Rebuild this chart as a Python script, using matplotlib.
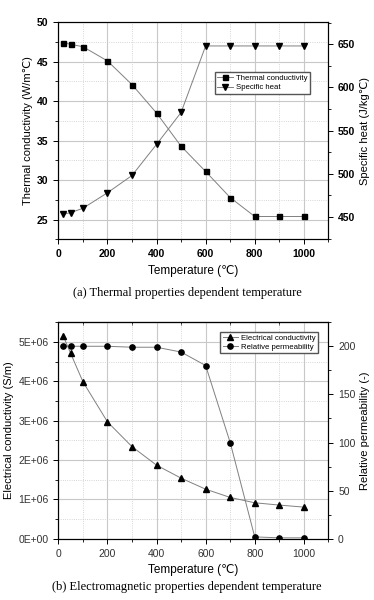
import matplotlib
matplotlib.use('Agg')
from matplotlib import pyplot as plt
from matplotlib.ticker import MultipleLocator, FuncFormatter

plt.rcParams['font.family'] = ['Liberation Sans', 'DejaVu Sans']

# temperature points (deg C)
temp = [20, 50, 100, 200, 300, 400, 500, 600, 700, 800, 900, 1000]

# (a) thermal properties
thermal_cond = [47.4, 47.2, 46.9, 45.1, 42.1, 38.5, 34.3, 31.1, 27.8, 25.4, 25.4, 25.4]
specific_heat = [453, 455, 460, 478, 498, 534, 571, 648, 648, 648, 648, 648]

# (b) electromagnetic properties
elec_cond = [5.15e6, 4.71e6, 3.99e6, 2.97e6, 2.34e6, 1.87e6, 1.54e6, 1.26e6,
             1.05e6, 0.915e6, 0.856e6, 0.805e6]
rel_perm = [200, 200, 200, 200, 199, 199, 194, 180, 100, 2, 1, 1]

line_c = '#808080'
grid_c = '#c8c8c8'
lab_fs = 8.5
ylab_fs = 8.0


def style_axes(ax, ax2, bold):
    w = 'bold' if bold else 'normal'
    tc = 'black' if bold else '#333333'
    for a in (ax, ax2):
        for s in a.spines.values():
            s.set_linewidth(0.8)
    ax.set_xlim(0, 1100)
    ax.xaxis.set_major_locator(MultipleLocator(200))
    ax.xaxis.set_minor_locator(MultipleLocator(100))
    ax.tick_params(which='both', direction='out', top=False, labelsize=7.5, colors='black')
    ax.tick_params(which='major', length=3.5, width=0.7)
    ax.tick_params(which='minor', length=2, width=0.6)
    ax2.tick_params(which='both', direction='out', labelsize=7.5)
    ax2.tick_params(which='major', length=3.5, width=0.7)
    ax2.tick_params(which='minor', length=2, width=0.6)
    for lab in ax.get_xticklabels() + ax.get_yticklabels() + ax2.get_yticklabels():
        lab.set_fontweight(w)
        lab.set_color(tc)
    ax.grid(which='major', color=grid_c, linewidth=0.8, linestyle='-')
    ax.grid(which='minor', color=grid_c, linewidth=0.6, linestyle=':')
    ax.set_axisbelow(True)
    ax.set_xlabel('Temperature (\u2103)', fontsize=lab_fs, labelpad=4)


fig = plt.figure(figsize=(3.74, 6.0), dpi=100)

# ---- (a) ----
ax1 = fig.add_axes([0.156, 0.601, 0.722, 0.362])
ax1b = ax1.twinx()
h1, = ax1.plot(temp, thermal_cond, color=line_c, lw=0.7, marker='s', ms=3.6,
               mfc='black', mec='black', label='Thermal conductivity')
h2, = ax1b.plot(temp, specific_heat, color=line_c, lw=0.7, marker='v', ms=4.2,
                mfc='black', mec='black', label='Specific heat')
ax1.set_ylim(22.5, 50)
ax1.yaxis.set_major_locator(MultipleLocator(5))
ax1.yaxis.set_minor_locator(MultipleLocator(2.5))
ax1b.set_ylim(424, 675.5)
ax1b.yaxis.set_major_locator(MultipleLocator(50))
ax1b.yaxis.set_minor_locator(MultipleLocator(25))
style_axes(ax1, ax1b, True)
ax1.set_ylabel('Thermal conductivity (W/m\u2103)', fontsize=ylab_fs, labelpad=3)
ax1b.set_ylabel('Specific heat (J/kg\u2103)', fontsize=ylab_fs, labelpad=3)
ax1b.legend([h1, h2], ['Thermal conductivity', 'Specific heat'],
            loc='upper left', bbox_to_anchor=(0.58, 0.77), fontsize=5.6,
            frameon=True, fancybox=False, edgecolor='#555555', framealpha=1,
            handlelength=2.0, borderpad=0.3, labelspacing=0.25, handletextpad=0.4,
            borderaxespad=0)
fig.text(0.5, 1 - 292.7 / 600, '(a) Thermal properties dependent temperature',
         family='Liberation Serif', fontsize=9, ha='center', va='center')

# ---- (b) ----
ax2 = fig.add_axes([0.156, 0.102, 0.722, 0.361])
ax2b = ax2.twinx()
h3, = ax2.plot(temp, elec_cond, color=line_c, lw=0.7, marker='^', ms=4.2,
               mfc='black', mec='black', label='Electrical conductivity')
h4, = ax2b.plot(temp, rel_perm, color=line_c, lw=0.7, marker='o', ms=3.8,
                mfc='black', mec='black', label='Relative permeability')
ax2.set_ylim(0, 5.5e6)
ax2.yaxis.set_major_locator(MultipleLocator(1e6))
ax2.yaxis.set_minor_locator(MultipleLocator(5e5))
ax2.yaxis.set_major_formatter(FuncFormatter(lambda v, p: '%dE+%02d' % (round(v / 1e6), 6) if v else '0E+00'))
ax2b.set_ylim(0, 225)
ax2b.yaxis.set_major_locator(MultipleLocator(50))
ax2b.yaxis.set_minor_locator(MultipleLocator(25))
style_axes(ax2, ax2b, False)
# small inward ticks along the top spine
top = ax2.secondary_xaxis('top')
top.xaxis.set_major_locator(MultipleLocator(200))
top.xaxis.set_minor_locator(MultipleLocator(100))
top.tick_params(which='both', direction='in', labeltop=False, width=0.6)
top.tick_params(which='major', length=3)
top.tick_params(which='minor', length=2)
top.spines['top'].set_linewidth(0.8)
ax2.set_ylabel('Electrical conductivity (S/m)', fontsize=ylab_fs, labelpad=3)
ax2b.set_ylabel('Relative permeability (-)', fontsize=ylab_fs, labelpad=3)
ax2b.legend([h3, h4], ['Electrical conductivity', 'Relative permeability'],
            loc='upper left', bbox_to_anchor=(0.60, 0.955), fontsize=5.6,
            frameon=True, fancybox=False, edgecolor='#555555', framealpha=1,
            handlelength=2.0, borderpad=0.3, labelspacing=0.25, handletextpad=0.4,
            borderaxespad=0)
fig.text(0.5, 1 - 587 / 600, '(b) Electromagnetic properties dependent temperature',
         family='Liberation Serif', fontsize=9, ha='center', va='center')

fig.savefig('out.png', dpi=100)
plt.close(fig)
